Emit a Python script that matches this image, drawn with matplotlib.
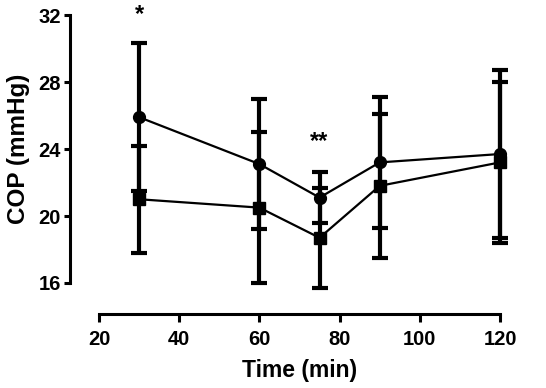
import matplotlib
matplotlib.use("Agg")
import matplotlib.pyplot as plt
import numpy as np

plt.rcParams['font.family'] = ['Liberation Sans', 'DejaVu Sans']
plt.rcParams['font.weight'] = 'bold'

time = [30, 60, 75, 90, 120]
circle_mean = [25.9, 23.1, 21.1, 23.2, 23.7]
circle_sd = [4.4, 3.9, 1.5, 3.9, 5.0]
square_mean = [21.0, 20.5, 18.7, 21.8, 23.2]
square_sd = [3.2, 4.5, 3.0, 4.3, 4.8]
xticks = [20, 40, 60, 80, 100, 120]
yticks = [16, 20, 24, 28, 32]
annotations = [(30, 32.0, '*'), (75, 24.45, '**')]

W, H = 546, 388
fig = plt.figure(figsize=(W/100, H/100), dpi=100)
ax = fig.add_axes([99/W, (H-283)/H, (500-99)/W, (283-15)/H])

for m, sd, mk in [(circle_mean, circle_sd, 'o'), (square_mean, square_sd, 's')]:
    ax.errorbar(time, m, yerr=sd, fmt='-', marker=mk, color='black',
                lw=1.6, elinewidth=3.0, capsize=5.5, capthick=3.0,
                markersize=8.5, clip_on=False, zorder=3)

for x, y, s in annotations:
    ax.text(x, y, s, ha='center', va='center', fontsize=17, fontweight='bold')

ax.set_xlim(20, 120)
ax.set_ylim(16, 32)
ax.set_xticks(xticks)
ax.set_yticks(yticks)
for sp in ['top', 'right']:
    ax.spines[sp].set_visible(False)
ax.spines['left'].set_position(('outward', 21))
ax.spines['bottom'].set_position(('outward', 22))
ax.spines['left'].set_linewidth(2.2)
ax.spines['bottom'].set_linewidth(2.2)
ax.tick_params(axis='y', width=2.2, length=4.5, labelsize=14.5, pad=2)
ax.tick_params(axis='x', width=2.2, length=6, labelsize=14.5, pad=6)
for lbl in ax.get_xticklabels() + ax.get_yticklabels():
    lbl.set_fontweight('bold')
ax.set_xlabel('Time (min)', fontsize=16.5, fontweight='bold', labelpad=7)
ax.set_ylabel('COP (mmHg)', fontsize=17.5, fontweight='bold', labelpad=6)

fig.savefig('out.png', dpi=100)
